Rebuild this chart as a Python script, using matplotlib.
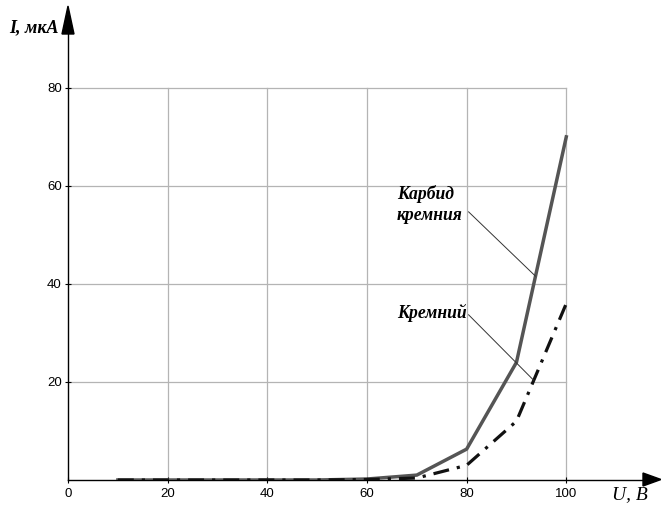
import matplotlib.pyplot as plt
from matplotlib.patches import Polygon

# данные: напряжение, В и ток, мкА
u_values = [10, 20, 30, 40, 50, 60, 70, 80, 90, 100]
i_sic = [0, 0, 0, 0, 0, 0.2, 1, 6.3, 24, 70]
i_si = [0, 0, 0, 0, 0, 0.1, 0.4, 3, 12, 36]
x_ticks = [0, 20, 40, 60, 80, 100]
y_ticks = [20, 40, 60, 80]

W, H = 661, 505


def px(x, y):
    # пиксели -> доли фигуры
    return (x / W, 1 - y / H)


def main():
    fig = plt.figure(figsize=(W / 100, H / 100), dpi=100)
    ax = fig.add_axes([68 / W, 25 / H, 580 / W, 450 / H])
    ax.set_xlim(0, 116.4)
    ax.set_ylim(0, 91.8)

    # сетка только внутри 0..100, 0..80
    for x in x_ticks[1:]:
        ax.plot([x, x], [0, 80], color='#b4b4b4', lw=0.9, zorder=1)
    for y in y_ticks:
        ax.plot([0, 100], [y, y], color='#b4b4b4', lw=0.9, zorder=1)

    ax.plot(u_values, i_sic, color='#555555', lw=2.5, zorder=3)
    ax.plot(u_values, i_si, color='#111111', lw=2.3, zorder=3,
            dashes=(5, 2.5, 1, 2.5))

    # оси со стрелками
    for s in ['top', 'right']:
        ax.spines[s].set_visible(False)
    ax.spines['left'].set_linewidth(1.0)
    ax.spines['bottom'].set_linewidth(1.0)
    up = Polygon([px(62, 34), px(74, 34), px(68, 6)], closed=True,
                 transform=fig.transFigure, color='black')
    right = Polygon([px(643, 473), px(643, 486), px(661, 479.5)], closed=True,
                    transform=fig.transFigure, color='black')
    fig.patches.extend([up, right])

    ax.set_xticks(x_ticks)
    ax.set_yticks(y_ticks)
    ax.tick_params(axis='both', labelsize=9.5, direction='inout', length=5, width=0.8)
    ax.tick_params(axis='y', pad=2)
    ax.tick_params(axis='x', pad=3)
    for lab in ax.get_xticklabels() + ax.get_yticklabels():
        lab.set_family('Liberation Sans')

    serif = dict(family='Liberation Serif', style='italic', fontsize=12.7)
    fig.text(9 / W, 1 - 28 / H, 'I, мкА', weight='bold', va='center',
             family='Liberation Serif', style='italic', fontsize=13)
    fig.text(612 / W, 1 - 495 / H, 'U, В', va='center', fontsize=14,
             family='Liberation Serif', style='italic')

    ax.text(66, 53.0, 'Карбид\nкремния', weight='bold', linespacing=1.3, **serif)
    ax.text(66, 34, 'Кремний', weight='bold', va='center', **serif)
    ax.plot([80.4, 93.8], [54.7, 41.6], color='#333333', lw=0.7, zorder=4)
    ax.plot([80.4, 93.4], [33.7, 20.4], color='#333333', lw=0.7, zorder=4)

    fig.savefig('out.png', dpi=100)


if __name__ == '__main__':
    main()
